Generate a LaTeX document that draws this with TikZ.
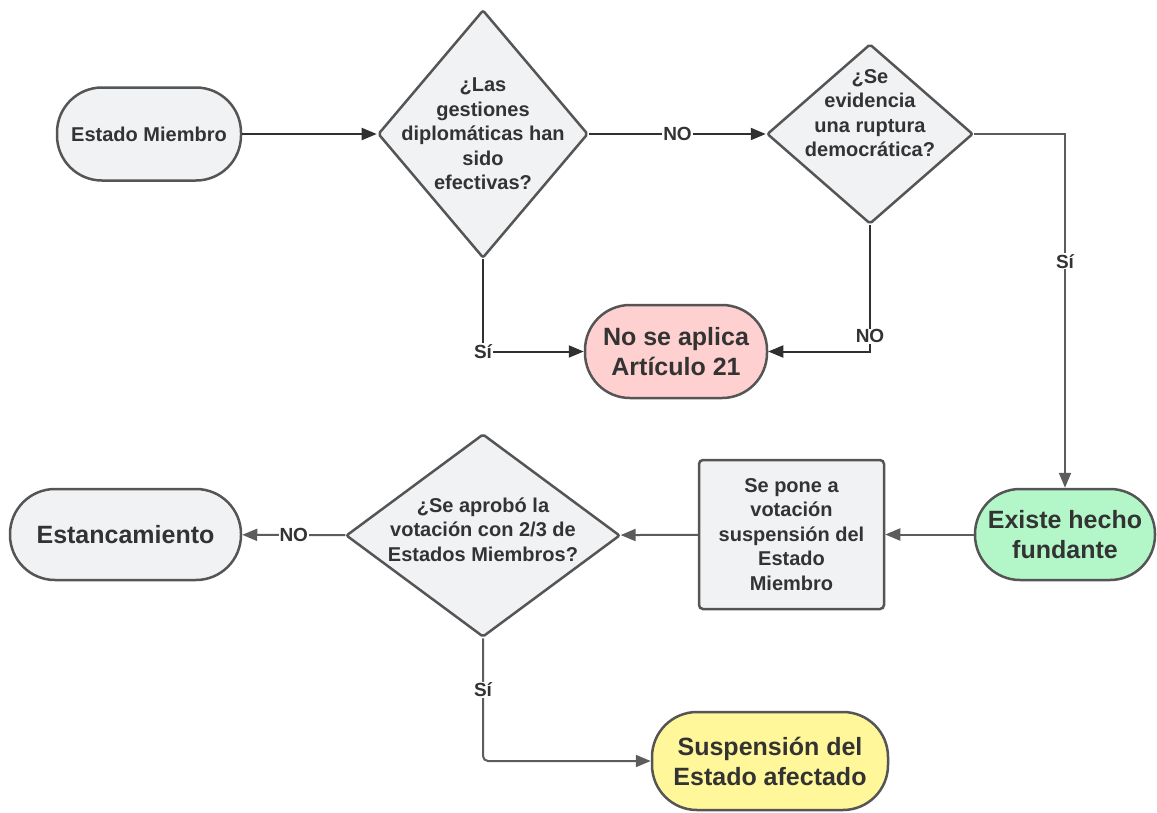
\documentclass[tikz,border=0pt]{standalone}
\usepackage{fontspec}
\setmainfont{Liberation Sans}
\usetikzlibrary{arrows.meta,shapes.geometric}

\definecolor{boxgray}{HTML}{F1F2F4}
\definecolor{edgegray}{HTML}{555555}
\definecolor{inkgray}{HTML}{333333}
\definecolor{linedark}{HTML}{303030}
\definecolor{linegray}{HTML}{5C5C5C}
\definecolor{pinkfill}{HTML}{FFD0D0}
\definecolor{greenfill}{HTML}{B3F7C9}
\definecolor{yellowfill}{HTML}{FFF79A}

\tikzset{
  pill/.style={draw=edgegray, line width=2.5pt, fill=boxgray, rounded corners=45pt,
    align=center, text=inkgray, inner sep=0pt},
  smalltext/.style={font=\bfseries\fontsize{20}{24.5}\selectfont},
  bigtext/.style={font=\bfseries\fontsize{25}{30}\selectfont},
  choice/.style={diamond, draw=edgegray, line width=2.5pt, fill=boxgray, inner sep=0pt,
    rounded corners=2pt},
  choicetext/.style={smalltext, align=center, text=inkgray},
  votebox/.style={rectangle, draw=edgegray, line width=2.5pt, fill=boxgray, rounded corners=4pt,
    align=center, text=inkgray, inner sep=0pt},
  darkarrow/.style={draw=linedark, line width=2pt, -{Triangle[length=15pt,width=12pt]}},
  grayarrow/.style={draw=linegray, line width=2pt, -{Triangle[length=15pt,width=12pt]}},
  answer/.style={fill=white, text=inkgray, inner sep=1pt, font=\bfseries\fontsize{19}{22}\selectfont}
}

\begin{document}
\begin{tikzpicture}[x=1pt, y=-1pt]
			%%%%% FRAME %%%%%
			\useasboundingbox (0,0) rectangle (1157,812);
			
			%%%%% TOP ROW %%%%%
			\node[pill, smalltext, minimum width=184pt, minimum height=93pt] (miembro) at (149,134) {Estado Miembro};
			
			\node[choice, minimum width=210pt, minimum height=248pt,
			  label={[choicetext]center:{¿Las\\gestiones\\diplomáticas han\\sido\\efectivas?}}] (gestiones) at (483,134) {};
			
			\node[choice, minimum width=206pt, minimum height=180pt,
			  label={[choicetext, yshift=21pt]center:{¿Se\\evidencia\\una ruptura\\democrática?}}] (ruptura) at (870,134) {};
			
			\node[pill, bigtext, fill=pinkfill, minimum width=182pt, minimum height=93pt] (noaplica) at (676,351.5) {No se aplica\\Artículo 21};
			
			%%%%% BOTTOM ROW %%%%%
			\node[pill, bigtext, fill=greenfill, minimum width=180pt, minimum height=91pt] (hecho) at (1065,534.5) {Existe hecho\\fundante};
			
			\node[votebox, smalltext, minimum width=185pt, minimum height=149pt] (votacion) at (791.5,534.5) {Se pone a\\votación\\suspensión del\\Estado\\Miembro};
			
			\node[choice, minimum width=274pt, minimum height=203pt,
			  label={[choicetext, yshift=6pt]center:{¿Se aprobó la\\votación con 2/3 de\\Estados Miembros?}}] (aprobo) at (483,535.5) {};
			
			\node[pill, bigtext, minimum width=231pt, minimum height=91pt] (estanca) at (125.5,534.5) {Estancamiento};
			
			\node[pill, bigtext, fill=yellowfill, minimum width=236pt, minimum height=98pt] (suspension) at (770,761) {Suspensión del\\Estado afectado};
			
			%%%%% ARROWS %%%%%
			\draw[darkarrow] (miembro) -- (gestiones);
			\draw[darkarrow] (gestiones) -- node[answer] {NO} (ruptura);
			\draw[darkarrow] (gestiones.south) |- node[answer] {Sí} (noaplica.west);
			\draw[darkarrow] (ruptura.south) |- node[answer, pos=0.44] {NO} (noaplica.east);
			\draw[grayarrow] (ruptura.east) -| node[answer, pos=0.68] {Sí} (hecho.north);
			
			\draw[grayarrow] (hecho) -- (votacion);
			\draw[grayarrow] (votacion) -- (aprobo);
			\draw[grayarrow] (aprobo) -- node[answer] {NO} (estanca);
			\draw[grayarrow, rounded corners=5pt] (aprobo.south) |- node[answer, pos=0.21] {Sí} (suspension.west);
			
			%%%%% END %%%%%
\end{tikzpicture}
\end{document}
